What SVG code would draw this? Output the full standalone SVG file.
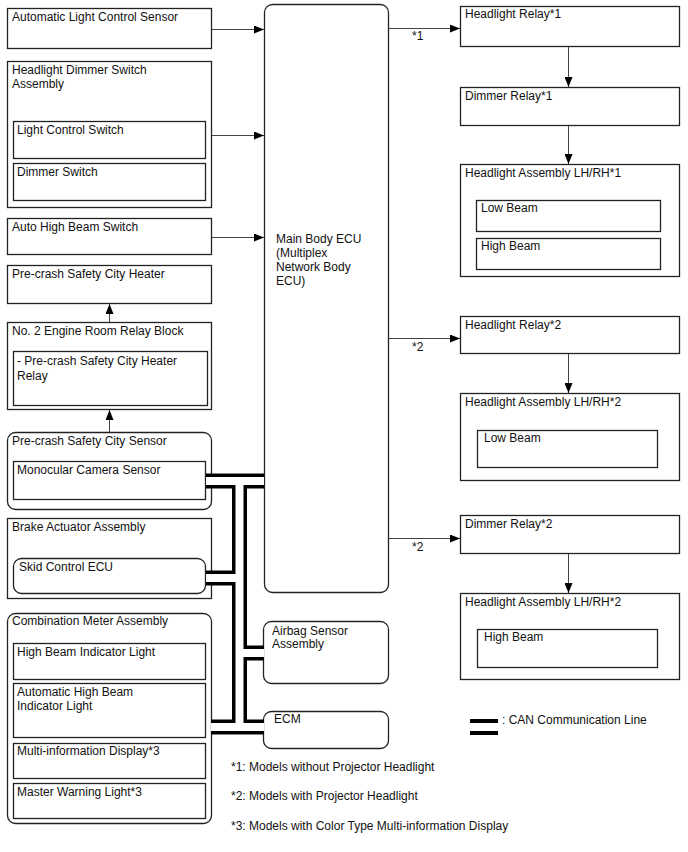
<svg xmlns="http://www.w3.org/2000/svg" width="688" height="852" viewBox="0 0 688 852">
<defs>
<marker id="ah" markerWidth="10" markerHeight="8" refX="10" refY="4" orient="auto" markerUnits="userSpaceOnUse">
<path d="M0,0 L10,4 L0,8 Z" fill="#000"/>
</marker>
<style>
.b{fill:#fff;stroke:#222;stroke-width:1.3}
.t{font-family:"Liberation Sans",Arial,sans-serif;font-size:12px;fill:#111}
.c{fill:none;stroke:#444;stroke-width:1}
.canb{fill:none;stroke:#000;stroke-width:15}
.canw{fill:none;stroke:#fff;stroke-width:8}
</style>
</defs>
<rect width="688" height="852" fill="#fff"/>

<g id="alc"><rect class="b" x="7.5" y="8.5" width="204" height="40"/><text class="t" x="12" y="21">Automatic Light Control Sensor</text></g>
<g id="hds"><rect class="b" x="7.5" y="61.5" width="204" height="146"/><text class="t" x="12" y="74">Headlight Dimmer Switch</text><text class="t" x="12" y="88">Assembly</text>
<rect class="b" x="13.5" y="121.5" width="192" height="37"/><text class="t" x="17" y="134">Light Control Switch</text>
<rect class="b" x="13.5" y="163.5" width="192" height="37"/><text class="t" x="17" y="176">Dimmer Switch</text></g>
<g id="ahbs"><rect class="b" x="7.5" y="218.5" width="204" height="36"/><text class="t" x="12" y="231">Auto High Beam Switch</text></g>
<g id="heater"><rect class="b" x="7.5" y="265.5" width="204" height="38"/><text class="t" x="12" y="278">Pre-crash Safety City Heater</text></g>
<g id="relayblock"><rect class="b" x="7.5" y="322.5" width="204" height="87"/><text class="t" x="12" y="335">No. 2 Engine Room Relay Block</text>
<rect class="b" x="13.5" y="351.5" width="194" height="54"/><text class="t" x="17" y="365">- Pre-crash Safety City Heater</text><text class="t" x="17" y="380">Relay</text></g>
<g id="pcs"><rect class="b" x="7.5" y="432.5" width="204" height="77" rx="8"/><text class="t" x="12" y="445">Pre-crash Safety City Sensor</text>
<rect class="b" x="13.5" y="461.5" width="192" height="38"/><text class="t" x="17" y="474">Monocular Camera Sensor</text></g>
<g id="brake"><rect class="b" x="7.5" y="518.5" width="204" height="80"/><text class="t" x="12" y="531">Brake Actuator Assembly</text>
<rect class="b" x="13.5" y="558.5" width="192" height="35" rx="8"/><text class="t" x="19" y="571">Skid Control ECU</text></g>
<g id="meter"><rect class="b" x="7.5" y="613.5" width="204" height="210" rx="8"/><text class="t" x="12" y="625">Combination Meter Assembly</text>
<rect class="b" x="13.5" y="643.5" width="192" height="36"/><text class="t" x="17" y="656">High Beam Indicator Light</text>
<rect class="b" x="13.5" y="683.5" width="192" height="54"/><text class="t" x="17" y="696">Automatic High Beam</text><text class="t" x="17" y="710">Indicator Light</text>
<rect class="b" x="13.5" y="743.5" width="192" height="35"/><text class="t" x="17" y="755">Multi-information Display*3</text>
<rect class="b" x="13.5" y="783.5" width="192" height="35"/><text class="t" x="17" y="796">Master Warning Light*3</text></g>

<g id="ecu"><rect class="b" x="264.5" y="4.5" width="124" height="588" rx="8"/><text class="t" x="276" y="243">Main Body ECU</text><text class="t" x="276" y="257">(Multiplex</text><text class="t" x="276" y="271">Network Body</text><text class="t" x="276" y="285">ECU)</text></g>
<g id="airbag"><rect class="b" x="263.5" y="621.5" width="125" height="62" rx="8"/><text class="t" x="272" y="635">Airbag Sensor</text><text class="t" x="272" y="648">Assembly</text></g>
<g id="ecm"><rect class="b" x="263.5" y="711.5" width="125" height="37" rx="8"/><text class="t" x="274" y="723">ECM</text></g>

<g id="hr1"><rect class="b" x="460.5" y="6.5" width="219" height="40"/><text class="t" x="465" y="18">Headlight Relay*1</text></g>
<g id="dr1"><rect class="b" x="460.5" y="87.5" width="219" height="38"/><text class="t" x="465" y="100">Dimmer Relay*1</text></g>
<g id="ha1"><rect class="b" x="460.5" y="164.5" width="219" height="112"/><text class="t" x="465" y="177">Headlight Assembly LH/RH*1</text>
<rect class="b" x="476.5" y="200.5" width="184" height="31"/><text class="t" x="481" y="212">Low Beam</text>
<rect class="b" x="476.5" y="238.5" width="184" height="31"/><text class="t" x="481" y="250">High Beam</text></g>
<g id="hr2"><rect class="b" x="460.5" y="316.5" width="219" height="37"/><text class="t" x="465" y="329">Headlight Relay*2</text></g>
<g id="ha2"><rect class="b" x="460.5" y="393.5" width="219" height="87"/><text class="t" x="465" y="406">Headlight Assembly LH/RH*2</text>
<rect class="b" x="477.5" y="430.5" width="180" height="37"/><text class="t" x="484" y="442">Low Beam</text></g>
<g id="dr2"><rect class="b" x="460.5" y="515.5" width="219" height="38"/><text class="t" x="465" y="528">Dimmer Relay*2</text></g>
<g id="ha3"><rect class="b" x="460.5" y="593.5" width="219" height="86"/><text class="t" x="465" y="606">Headlight Assembly LH/RH*2</text>
<rect class="b" x="477.5" y="629.5" width="180" height="38"/><text class="t" x="484" y="641">High Beam</text></g>

<g id="connectors">
<line class="c" x1="212" y1="29.5" x2="264" y2="29.5" marker-end="url(#ah)"/>
<line class="c" x1="212" y1="135.5" x2="264" y2="135.5" marker-end="url(#ah)"/>
<line class="c" x1="212" y1="237.5" x2="264" y2="237.5" marker-end="url(#ah)"/>
<line class="c" x1="109.5" y1="322" x2="109.5" y2="304" marker-end="url(#ah)"/>
<line class="c" x1="109.5" y1="432" x2="109.5" y2="410" marker-end="url(#ah)"/>
<line class="c" x1="389" y1="28.5" x2="460" y2="28.5" marker-end="url(#ah)"/>
<line class="c" x1="389" y1="338.5" x2="460" y2="338.5" marker-end="url(#ah)"/>
<line class="c" x1="389" y1="538.5" x2="460" y2="538.5" marker-end="url(#ah)"/>
<line class="c" x1="568.5" y1="47" x2="568.5" y2="87" marker-end="url(#ah)"/>
<line class="c" x1="568.5" y1="126" x2="568.5" y2="164" marker-end="url(#ah)"/>
<line class="c" x1="568.5" y1="354" x2="568.5" y2="393" marker-end="url(#ah)"/>
<line class="c" x1="568.5" y1="554" x2="568.5" y2="593" marker-end="url(#ah)"/>
<text class="t" x="412" y="40">*1</text>
<text class="t" x="412" y="351">*2</text>
<text class="t" x="412" y="551">*2</text>
<g id="can">
<path class="canb" d="M206,481 H264 M239.5,481 V727 M206,578 H239.5 M239.5,653 H264 M211,727 H264"/>
<path class="canw" d="M206,481 H264 M239.5,481 V727 M206,578 H239.5 M239.5,653 H264 M211,727 H264"/>
</g>
</g>

<g id="legend">
<rect x="470" y="719" width="28" height="4" fill="#000"/>
<rect x="470" y="731" width="28" height="4" fill="#000"/>
<text class="t" x="502" y="724">: CAN Communication Line</text>
</g>
<g id="notes">
<text class="t" x="231" y="771">*1: Models without Projector Headlight</text>
<text class="t" x="231" y="800">*2: Models with Projector Headlight</text>
<text class="t" x="231" y="830">*3: Models with Color Type Multi-information Display</text>
</g>
</svg>
